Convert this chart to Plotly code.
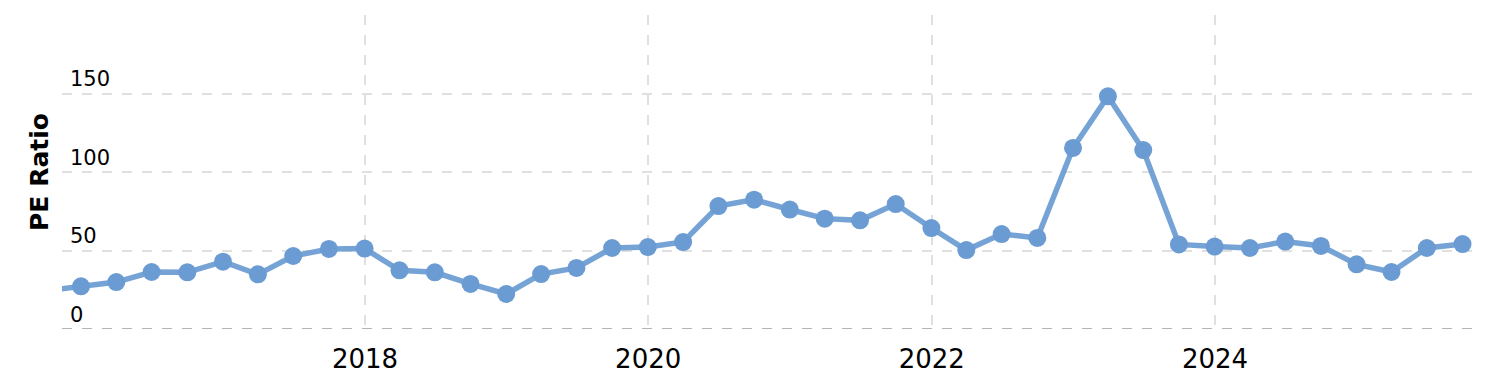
import plotly.graph_objects as go

dates = [
    "2015-09-30", "2015-12-31",
    "2016-03-31", "2016-06-30", "2016-09-30", "2016-12-31",
    "2017-03-31", "2017-06-30", "2017-09-30", "2017-12-31",
    "2018-03-31", "2018-06-30", "2018-09-30", "2018-12-31",
    "2019-03-31", "2019-06-30", "2019-09-30", "2019-12-31",
    "2020-03-31", "2020-06-30", "2020-09-30", "2020-12-31",
    "2021-03-31", "2021-06-30", "2021-09-30", "2021-12-31",
    "2022-03-31", "2022-06-30", "2022-09-30", "2022-12-31",
    "2023-03-31", "2023-06-30", "2023-09-30", "2023-12-31",
    "2024-03-31", "2024-06-30", "2024-09-30", "2024-12-31",
    "2025-03-31", "2025-06-30", "2025-09-30",
]
pe_ratio = [
    24.3, 27.2,
    29.9, 36.3, 36.1, 42.9,
    34.8, 46.5, 51.0, 51.2,
    37.4, 36.1, 28.7, 22.3,
    35.0, 38.9, 51.6, 52.2,
    55.4, 78.3, 82.4, 76.1,
    70.3, 69.2, 79.6, 64.3,
    50.3, 60.5, 58.0, 115.3,
    148.2, 114.0, 53.9, 52.5,
    51.6, 55.7, 52.9, 41.2,
    36.3, 51.6, 54.1,
]
y_ticks = [0, 50, 100, 150, 200]
y_tick_text = ["0", "50", "100", "150", ""]

fig = go.Figure()
fig.add_trace(go.Scatter(
    x=dates, y=pe_ratio, mode="lines+markers",
    line=dict(color="rgba(106,155,210,0.92)", width=5.5),
    marker=dict(color="rgb(106,155,210)", size=18),
    showlegend=False, hoverinfo="x+y",
))

fig.add_shape(type="line", xref="paper", x0=0, x1=1, yref="y", y0=0, y1=0,
              line=dict(color="#b4b4b4", width=2, dash="10px,10px"), layer="between")

fig.update_layout(
    width=1496, height=380,
    margin=dict(l=62, r=23, t=15, b=51),
    plot_bgcolor="white", paper_bgcolor="white",
    font=dict(family="DejaVu Sans, Verdana, sans-serif", color="black"),
    xaxis=dict(
        range=["2015-11-12", "2025-10-27"],
        tick0="2018-01-01", dtick="M24", tickformat="%Y",
        showgrid=True, gridcolor="#e0e0e0", griddash="10px,10px", gridwidth=2,
        zeroline=False, showline=False, ticks="", automargin=False,
        tickfont=dict(size=26, color="black"), ticklabelstandoff=12,
    ),
    yaxis=dict(
        range=[0, 200], tickvals=y_ticks, ticktext=y_tick_text,
        showgrid=True, gridcolor="#e0e0e0", griddash="10px,10px", gridwidth=2,
        zeroline=False, showline=False, ticks="", automargin=False,
        ticklabelposition="inside top", ticklabelstandoff=5,
        tickfont=dict(size=21, color="black"),
        title=dict(text="<b>PE Ratio</b>", font=dict(size=25), standoff=14),
    ),
)
fig.write_html("out.html")
